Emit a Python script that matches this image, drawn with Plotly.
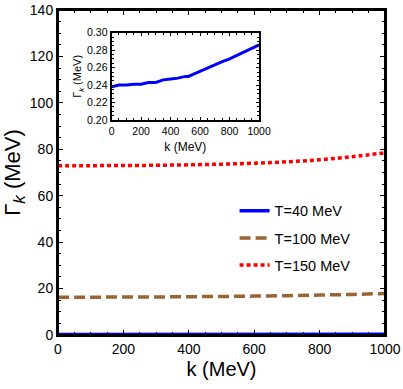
import plotly.graph_objects as go

k = [0, 50, 100, 150, 200, 250, 300, 350, 400, 450, 500, 520, 560, 600, 650, 700, 750, 800, 850, 900, 950, 1000]
gamma_40 = [0.238, 0.240, 0.240, 0.241, 0.241, 0.243, 0.243, 0.246, 0.247, 0.248, 0.250, 0.250, 0.253, 0.256, 0.260, 0.263, 0.267, 0.270, 0.274, 0.278, 0.282, 0.286]
k_main = [0, 100, 200, 300, 400, 500, 600, 700, 800, 900, 1000]
gamma_100 = [16.3, 16.3, 16.35, 16.4, 16.5, 16.6, 16.75, 16.95, 17.2, 17.5, 17.9]
gamma_150 = [72.9, 72.95, 73.0, 73.1, 73.3, 73.6, 74.0, 74.6, 75.5, 76.8, 78.5]

x_ticks = [0, 200, 400, 600, 800, 1000]
y_ticks = [0, 20, 40, 60, 80, 100, 120, 140]
inset_y_ticks = [0.20, 0.22, 0.24, 0.26, 0.28, 0.30]

BLUE = "rgb(0,0,255)"
BROWN = "rgb(153,102,51)"
RED = "rgb(255,0,0)"
FRAME = "black"
FONT = "Liberation Sans, Arial, sans-serif"

fig = go.Figure()
fig.add_trace(go.Scatter(x=k, y=gamma_40, mode="lines", name="T=40 MeV", legend="legend",
                         line=dict(color=BLUE, width=3.5)))
fig.add_trace(go.Scatter(x=k_main, y=gamma_100, mode="lines", name="T=100 MeV", legend="legend2",
                         line=dict(color=BROWN, width=3.5, dash="11px,5px"), line_shape="spline"))
fig.add_trace(go.Scatter(x=k_main, y=gamma_150, mode="lines", name="T=150 MeV", legend="legend3",
                         line=dict(color=RED, width=3.5, dash="4px,3px"), line_shape="spline"))
fig.add_trace(go.Scatter(x=k, y=gamma_40, mode="lines", showlegend=False,
                         line=dict(color=BLUE, width=3), xaxis="x2", yaxis="y2"))

axis_common = dict(showgrid=False, zeroline=False, showline=True, linecolor=FRAME,
                   linewidth=2, mirror="ticks", ticks="inside", tickcolor=FRAME,
                   color="black", automargin=False)

main_x = dict(range=[0, 1000], tickvals=x_ticks, ticklen=5, tickwidth=1,
              minor=dict(dtick=50, ticklen=3, ticks="inside", tickcolor=FRAME))
main_y = dict(range=[0, 140], tickvals=y_ticks, ticklen=5, tickwidth=1,
              minor=dict(dtick=5, ticklen=3, ticks="inside", tickcolor=FRAME))

def leg(y):
    return dict(x=0.54, y=y, xanchor="left", yanchor="middle", bgcolor="rgba(0,0,0,0)",
                font=dict(size=14.5, family=FONT, color="black"), itemwidth=30)

fig.update_layout(
    width=403, height=389,
    margin=dict(l=58, r=18, t=10, b=54, autoexpand=False),
    paper_bgcolor="white", plot_bgcolor="white",
    font=dict(family=FONT, color="black"),
    xaxis=dict(**main_x, tickfont=dict(size=14),
               title=dict(text="k (MeV)", font=dict(size=20), standoff=6),
               **axis_common),
    yaxis=dict(**main_y, tickfont=dict(size=14),
               title=dict(text="Γ<sub><span style='font-size:17px'><i>k</i></span></sub> (MeV)",
                          font=dict(size=22), standoff=5),
               **axis_common),
    xaxis2=dict(domain=[0.164, 0.615], anchor="y2", range=[0, 1000], tickvals=x_ticks,
                ticklen=3, tickwidth=1, tickfont=dict(size=10.5),
                minor=dict(dtick=50, ticklen=2, ticks="inside", tickcolor=FRAME),
                title=dict(text="k (MeV)", font=dict(size=12), standoff=7),
                **axis_common),
    yaxis2=dict(domain=[0.6615, 0.930], anchor="x2", range=[0.20, 0.30], tickvals=inset_y_ticks,
                tickformat=".2f", ticklen=3, tickwidth=1, tickfont=dict(size=10.5),
                minor=dict(dtick=0.005, ticklen=2, ticks="inside", tickcolor=FRAME),
                title=dict(text="Γ<sub><i>k</i></sub> (MeV)", font=dict(size=11), standoff=3),
                **axis_common),
    legend=leg(0.382),
    legend2=leg(0.298),
    legend3=leg(0.215),
    showlegend=True,
    shapes=[dict(type="rect", xref="paper", yref="paper", x0=0, x1=1, y0=0, y1=1,
                 line=dict(color=FRAME, width=2), layer="above")],
)

fig.write_html("out.html", config={"displayModeBar": False},
               post_script="document.body.style.margin='0';document.body.style.padding='0';document.body.style.overflow='hidden';")
